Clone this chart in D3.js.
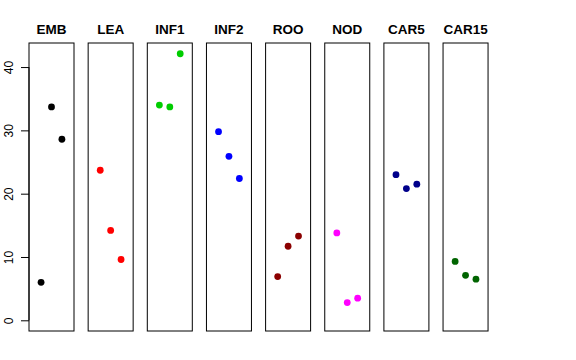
<!DOCTYPE html>
<html>
<head>
<meta charset="utf-8">
<script src="https://cdn.jsdelivr.net/npm/d3@7"></script>
<style>
  body { margin: 0; background: #fff; }
  svg { display: block; font-family: "Liberation Sans", Arial, sans-serif; }
</style>
</head>
<body>
<svg width="576" height="360"></svg>
<script>
// one panel per tissue, three points each
var tissues = ["EMB", "LEA", "INF1", "INF2", "ROO", "NOD", "CAR5", "CAR15"];
var colours = ["#000000", "#FF0000", "#00CD00", "#0000FF", "#8B0000", "#FF00FF", "#00008B", "#006400"];
var rep1 = [6.0, 23.7, 34.0, 29.8, 6.9, 13.8, 23.0, 9.3];
var rep2 = [33.7, 14.2, 33.7, 25.9, 11.7, 2.8, 20.8, 7.1];
var rep3 = [28.6, 9.6, 42.1, 22.4, 13.3, 3.5, 21.5, 6.5];
var yTicks = [0, 10, 20, 30, 40];

var svg = d3.select("svg");

var panelLeft = 29;
var panelWidth = 45;
var panelStep = 59.15;
var plotTop = 43, plotBottom = 331;

var y = d3.scaleLinear()
    .domain([-1.69, 43.8])
    .range([plotBottom, plotTop]);

// x within a panel: positions 1..3 on [0,4] with 4% padding
var x = d3.scaleLinear()
    .domain([-0.16, 4.16])
    .range([0, panelWidth]);

var panels = svg.selectAll("g.panel")
    .data(tissues)
    .enter().append("g")
    .attr("class", "panel")
    .attr("transform", function (d, i) { return "translate(" + (panelLeft + i * panelStep) + ",0)"; });

panels.append("rect")
    .attr("x", 0)
    .attr("y", plotTop)
    .attr("width", panelWidth)
    .attr("height", plotBottom - plotTop)
    .attr("fill", "none")
    .attr("stroke", "#000")
    .attr("stroke-width", 1);

panels.append("text")
    .attr("x", panelWidth / 2)
    .attr("y", 33.5)
    .attr("text-anchor", "middle")
    .style("font-weight", "bold")
    .style("font-size", "13.5px")
    .text(function (d) { return d; });

panels.selectAll("circle")
    .data(function (d, i) {
        return [rep1[i], rep2[i], rep3[i]].map(function (v, j) {
            return { x: j + 1, y: v, colour: colours[i] };
        });
    })
    .enter().append("circle")
    .attr("cx", function (d) { return x(d.x); })
    .attr("cy", function (d) { return y(d.y); })
    .attr("r", 3.4)
    .attr("fill", function (d) { return d.colour; });

// y axis on the first panel
var axis = d3.axisLeft(y)
    .tickValues(yTicks)
    .tickSize(8)
    .tickSizeOuter(0)
    .tickPadding(3);

var ax = svg.append("g")
    .attr("transform", "translate(" + panelLeft + ",0)")
    .call(axis);

ax.select(".domain")
    .attr("d", "M0," + y(0) + "V" + y(40));

ax.selectAll(".tick line").attr("stroke", "#000");
ax.selectAll(".tick text")
    .attr("x", null)
    .attr("dy", null)
    .attr("transform", "translate(-15.7,0) rotate(-90)")
    .attr("text-anchor", "middle")
    .style("font-size", "12px")
    .style("font-family", "'Liberation Sans', Arial, sans-serif")
    .attr("fill", "#000");
</script>
</body>
</html>
